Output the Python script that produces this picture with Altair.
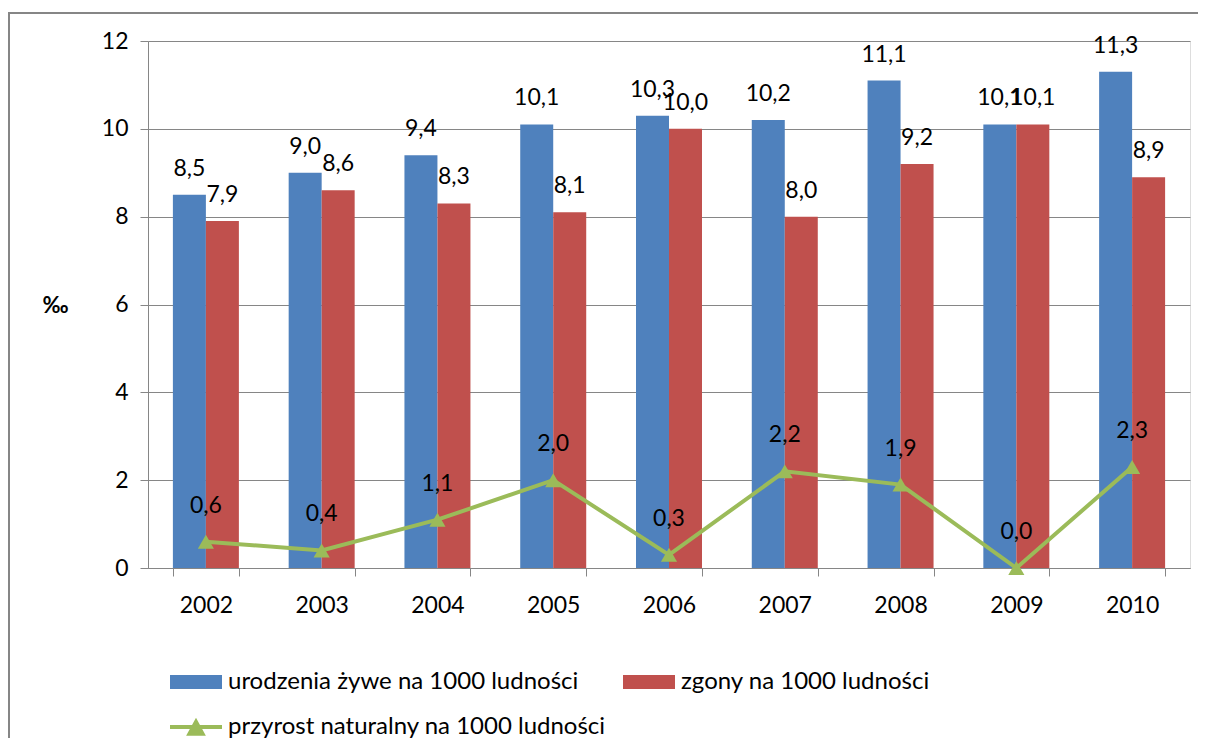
import altair as alt
import pandas as pd

years = ["2002", "2003", "2004", "2005", "2006", "2007", "2008", "2009", "2010"]
births = [8.5, 9.0, 9.4, 10.1, 10.3, 10.2, 11.1, 10.1, 11.3]
deaths = [7.9, 8.6, 8.3, 8.1, 10.0, 8.0, 9.2, 10.1, 8.9]
growth = [0.6, 0.4, 1.1, 2.0, 0.3, 2.2, 1.9, 0.0, 2.3]
bar_series = ["urodzenia żywe na 1000 ludności", "zgony na 1000 ludności"]
line_series = "przyrost naturalny na 1000 ludności"
y_ticks = [0, 2, 4, 6, 8, 10, 12]

BLUE = "#4F81BD"
RED = "#C0504D"
GREEN = "#9BBB59"
GRAY = "#868686"
FONT = "Lato"
FS = 23


def fmt(v):
    return f"{v:.1f}".replace(".", ",")


bars_df = pd.DataFrame({
    "year": years * 2,
    "series": [bar_series[0]] * len(years) + [bar_series[1]] * len(years),
    "value": births + deaths,
})
bars_df["label"] = bars_df["value"].map(fmt)

line_df = pd.DataFrame({"year": years, "series": line_series, "value": growth})
line_df["label"] = line_df["value"].map(fmt)

x_enc = alt.X(
    "year:N",
    sort=years,
    scale=alt.Scale(paddingInner=0.43, paddingOuter=0.215),
    axis=alt.Axis(
        title=None, labelFontSize=FS, labelColor="black", labelAngle=0,
        tickBand="extent", tickSize=8, tickColor=GRAY, domainColor=GRAY,
        labelPadding=18, grid=False, labelFont=FONT,
    ),
)
y_enc = alt.Y(
    "value:Q",
    scale=alt.Scale(domain=[0, 12]),
    axis=alt.Axis(
        values=y_ticks, title="‰", titleAngle=0, titleFontWeight="bold",
        titleFontSize=22, titleX=-93, titleY=264, titleAlign="center",
        titleBaseline="middle", titleColor="black", labelFontSize=FS,
        labelColor="black", tickSize=8, gridColor=GRAY, domainColor=GRAY,
        tickColor=GRAY, labelPadding=12, labelFont=FONT, titleFont=FONT,
    ),
)
xoff = alt.XOffset("series:N", sort=bar_series,
                   scale=alt.Scale(domain=bar_series, paddingInner=0, paddingOuter=0))

rect_path = "M-1,-0.27L1,-0.27L1,0.27L-1,0.27Z"
line_path = ("M-1,-0.08L1,-0.08L1,0.08L-1,0.08Z"
             "M-0.38,0.34L0,-0.36L0.38,0.34Z")

frame_data = alt.Data(values=[{"k": 1}])
frame_top = alt.Chart(frame_data).mark_rule(stroke=GRAY, strokeWidth=2).encode(
    x=alt.value(-140), x2=alt.value(1060), y=alt.value(-28)
)
frame_left = alt.Chart(frame_data).mark_rule(stroke=GRAY, strokeWidth=2).encode(
    x=alt.value(-139), y=alt.value(-29), y2=alt.value(720)
)

bars = alt.Chart(bars_df).mark_bar().encode(
    x=x_enc,
    xOffset=xoff,
    y=y_enc,
    color=alt.Color(
        "series:N",
        scale=alt.Scale(domain=bar_series, range=[BLUE, RED]),
        legend=alt.Legend(
            title=None, orient="none", legendX=22, legendY=615, columns=2,
            columnPadding=44, symbolType=rect_path, symbolSize=2704,
            symbolStrokeWidth=0, labelFontSize=24, labelFont=FONT,
            labelColor="black", labelLimit=700, labelOffset=6, padding=0,
        ),
    ),
)

bar_labels = alt.Chart(bars_df).mark_text(
    baseline="alphabetic", dy=-19, fontSize=FS, font=FONT, color="black"
).encode(x=alt.X("year:N", sort=years), xOffset=xoff, y="value:Q", text="label:N")

line = alt.Chart(line_df).mark_line(strokeWidth=4).encode(
    x=alt.X("year:N", sort=years),
    y="value:Q",
    stroke=alt.Stroke(
        "series:N",
        scale=alt.Scale(domain=[line_series], range=[GREEN]),
        legend=alt.Legend(
            title=None, orient="none", legendX=22, legendY=660,
            symbolType=line_path, symbolSize=2704, symbolFillColor=GREEN,
            symbolStrokeColor=GREEN, symbolStrokeWidth=0, labelFontSize=24,
            labelFont=FONT, labelColor="black", labelLimit=700,
            labelOffset=6, padding=0,
        ),
    ),
)

points = alt.Chart(line_df).mark_point(
    shape="triangle-up", filled=True, color=GREEN, size=260, opacity=1
).encode(x=alt.X("year:N", sort=years), y="value:Q")

line_labels = alt.Chart(line_df).mark_text(
    baseline="alphabetic", dy=-29, fontSize=FS, font=FONT, color="black"
).encode(x=alt.X("year:N", sort=years), y="value:Q", text="label:N")

chart = alt.layer(frame_top, frame_left, bars, bar_labels, line, points, line_labels).properties(
    width=1042,
    height=527,
    padding={"left": 140, "top": 33, "right": 8, "bottom": 170},
    autosize=alt.AutoSizeParams(type="none"),
).configure_view(strokeWidth=0).configure(font=FONT)

chart.save("out.html", embed_options={"renderer": "svg", "actions": False})
